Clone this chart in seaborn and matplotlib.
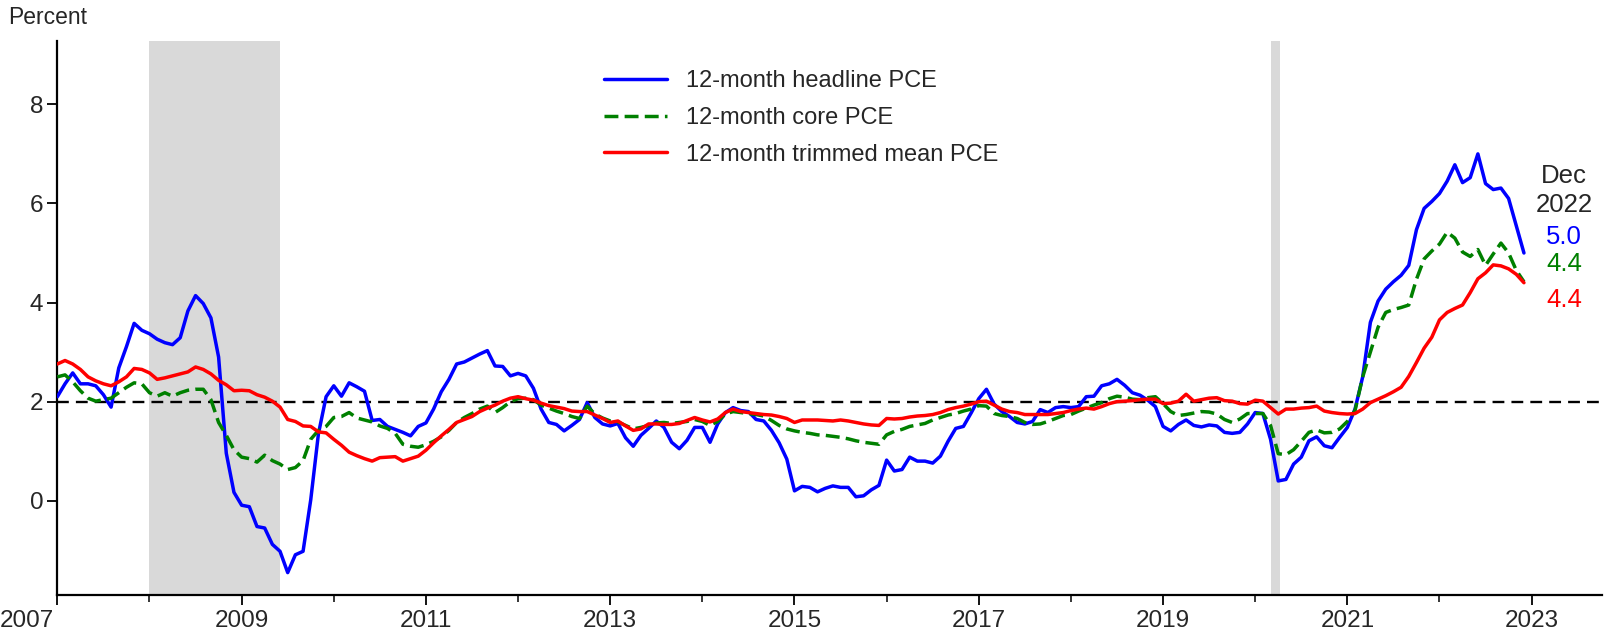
import numpy as np
import pandas as pd
import matplotlib
matplotlib.use("Agg")
import matplotlib.pyplot as plt
import matplotlib.transforms as mtransforms
import seaborn as sns

# monthly 12-month PCE inflation, Jan 2007 .. Dec 2022 (percent)
headline = [
    2.10, 2.36, 2.58, 2.36, 2.36, 2.32, 2.14, 1.89, 2.68, 3.11, 3.58, 3.44,   # 2007
    3.37, 3.26, 3.19, 3.15, 3.29, 3.83, 4.14, 3.98, 3.69, 2.90, 0.96, 0.17,   # 2008
    -0.09, -0.12, -0.52, -0.55, -0.88, -1.02, -1.45, -1.09, -1.02, 0.02, 1.35, 2.10,  # 2009
    2.32, 2.11, 2.38, 2.30, 2.21, 1.62, 1.64, 1.50, 1.44, 1.38, 1.31, 1.50,   # 2010
    1.57, 1.85, 2.20, 2.45, 2.76, 2.80, 2.88, 2.96, 3.03, 2.72, 2.71, 2.52,   # 2011
    2.57, 2.52, 2.27, 1.85, 1.58, 1.54, 1.41, 1.52, 1.64, 1.98, 1.68, 1.55,   # 2012
    1.51, 1.56, 1.27, 1.10, 1.32, 1.46, 1.61, 1.48, 1.18, 1.05, 1.22, 1.48,   # 2013
    1.48, 1.18, 1.55, 1.78, 1.88, 1.82, 1.80, 1.64, 1.61, 1.42, 1.17, 0.84,   # 2014
    0.20, 0.29, 0.27, 0.18, 0.25, 0.30, 0.27, 0.27, 0.08, 0.10, 0.22, 0.31,   # 2015
    0.82, 0.60, 0.63, 0.88, 0.80, 0.80, 0.76, 0.90, 1.20, 1.46, 1.50, 1.77,   # 2016
    2.06, 2.25, 1.95, 1.80, 1.70, 1.58, 1.55, 1.60, 1.84, 1.78, 1.88, 1.90,   # 2017
    1.88, 1.90, 2.10, 2.11, 2.32, 2.36, 2.45, 2.33, 2.18, 2.13, 2.03, 1.90,   # 2018
    1.50, 1.41, 1.54, 1.63, 1.52, 1.49, 1.53, 1.51, 1.38, 1.36, 1.38, 1.55,   # 2019
    1.78, 1.76, 1.24, 0.40, 0.43, 0.74, 0.88, 1.21, 1.29, 1.11, 1.07, 1.28,   # 2020
    1.48, 1.85, 2.50, 3.60, 4.03, 4.27, 4.42, 4.55, 4.75, 5.47, 5.90, 6.04,   # 2021
    6.20, 6.45, 6.78, 6.42, 6.52, 7.00, 6.40, 6.28, 6.31, 6.10, 5.55, 5.00,   # 2022
]

core = [
    2.50, 2.54, 2.40, 2.22, 2.07, 2.01, 2.04, 2.07, 2.18, 2.29, 2.38, 2.36,
    2.18, 2.11, 2.18, 2.11, 2.18, 2.23, 2.25, 2.25, 2.04, 1.58, 1.32, 1.03,
    0.88, 0.85, 0.78, 0.92, 0.81, 0.74, 0.63, 0.67, 0.81, 1.24, 1.42, 1.50,
    1.68, 1.70, 1.78, 1.67, 1.63, 1.59, 1.51, 1.46, 1.36, 1.14, 1.10, 1.08,
    1.13, 1.20, 1.29, 1.42, 1.58, 1.68, 1.76, 1.85, 1.91, 1.78, 1.88, 2.00,
    2.06, 2.07, 2.04, 1.93, 1.87, 1.81, 1.76, 1.70, 1.66, 1.91, 1.75, 1.67,
    1.61, 1.59, 1.52, 1.45, 1.48, 1.52, 1.57, 1.58, 1.56, 1.58, 1.60, 1.64,
    1.60, 1.52, 1.60, 1.75, 1.80, 1.78, 1.76, 1.74, 1.71, 1.62, 1.52, 1.45,
    1.41, 1.38, 1.36, 1.33, 1.32, 1.30, 1.28, 1.25, 1.21, 1.18, 1.16, 1.14,
    1.33, 1.40, 1.44, 1.50, 1.53, 1.56, 1.63, 1.68, 1.73, 1.76, 1.81, 1.85,
    1.92, 1.91, 1.76, 1.72, 1.70, 1.66, 1.58, 1.54, 1.55, 1.60, 1.66, 1.72,
    1.74, 1.81, 1.87, 1.93, 1.98, 2.06, 2.11, 2.09, 2.05, 2.04, 2.08, 2.10,
    1.96, 1.80, 1.72, 1.74, 1.77, 1.80, 1.79, 1.75, 1.64, 1.58, 1.65, 1.76,
    1.76, 1.76, 1.52, 0.95, 0.93, 1.03, 1.20, 1.38, 1.43, 1.37, 1.38, 1.45,
    1.60, 1.82, 2.50, 3.00, 3.50, 3.80, 3.86, 3.90, 3.95, 4.47, 4.88, 5.04,
    5.18, 5.42, 5.30, 5.02, 4.93, 5.07, 4.75, 4.98, 5.20, 5.00, 4.65, 4.42,
]

trimmed = [
    2.76, 2.83, 2.76, 2.65, 2.50, 2.42, 2.36, 2.32, 2.40, 2.50, 2.67, 2.65,
    2.58, 2.45, 2.48, 2.52, 2.56, 2.60, 2.70, 2.65, 2.56, 2.43, 2.34, 2.22,
    2.23, 2.22, 2.14, 2.09, 2.01, 1.89, 1.64, 1.60, 1.51, 1.50, 1.39, 1.37,
    1.24, 1.12, 0.98, 0.91, 0.85, 0.80, 0.87, 0.88, 0.89, 0.80, 0.85, 0.90,
    1.02, 1.17, 1.31, 1.44, 1.58, 1.64, 1.70, 1.80, 1.87, 1.93, 2.01, 2.07,
    2.10, 2.06, 2.03, 1.97, 1.92, 1.89, 1.86, 1.81, 1.80, 1.80, 1.73, 1.66,
    1.58, 1.61, 1.51, 1.42, 1.45, 1.55, 1.55, 1.54, 1.54, 1.56, 1.62, 1.68,
    1.63, 1.59, 1.65, 1.78, 1.85, 1.80, 1.78, 1.76, 1.74, 1.73, 1.70, 1.66,
    1.58, 1.63, 1.63, 1.63, 1.62, 1.61, 1.63, 1.61, 1.58, 1.55, 1.53, 1.52,
    1.66, 1.65, 1.66, 1.69, 1.71, 1.72, 1.74, 1.78, 1.84, 1.88, 1.91, 1.95,
    2.00, 2.01, 1.93, 1.85, 1.80, 1.78, 1.74, 1.74, 1.74, 1.74, 1.76, 1.78,
    1.82, 1.85, 1.87, 1.85, 1.90, 1.96, 2.00, 2.01, 2.02, 2.04, 2.05, 2.05,
    1.96, 1.97, 2.01, 2.15, 2.01, 2.04, 2.07, 2.08, 2.02, 2.01, 1.96, 1.95,
    2.03, 2.01, 1.88, 1.75, 1.85, 1.85, 1.87, 1.88, 1.91, 1.81, 1.78, 1.76,
    1.75, 1.76, 1.85, 1.98, 2.05, 2.12, 2.20, 2.29, 2.51, 2.79, 3.08, 3.30,
    3.65, 3.80, 3.88, 3.95, 4.20, 4.48, 4.60, 4.76, 4.74, 4.68, 4.57, 4.40,
]

series_names = ["12-month headline PCE", "12-month core PCE", "12-month trimmed mean PCE"]
recessions = [(2008.0, 2009.42), (2020.17, 2020.27)]
end_labels = ["5.0", "4.4", "4.4"]
target = 2.0

sns.set_style("ticks")
plt.rcParams["font.family"] = ["Liberation Sans", "DejaVu Sans"]

months = 2007 + np.arange(len(headline)) / 12
df = pd.DataFrame({"date": months, "headline": headline, "core": core, "trimmed": trimmed})

fig = plt.figure(figsize=(16.11, 6.39), dpi=100)
ax = fig.add_axes([0.0356, 0.069, 0.9586, 0.867])

for a, b in recessions:
    ax.axvspan(a, b, color="#d9d9d9", lw=0, zorder=0)

ax.axhline(target, color="black", lw=1.7, ls=(0, (5, 3)), zorder=1)

sns.lineplot(data=df, x="date", y="headline", ax=ax, color="#0000ff", lw=2.5,
             label=series_names[0], zorder=3)
sns.lineplot(data=df, x="date", y="core", ax=ax, color="#008000", lw=2.5,
             label=series_names[1], zorder=3)
ax.lines[-1].set_dashes((4, 1.8))
sns.lineplot(data=df, x="date", y="trimmed", ax=ax, color="#ff0000", lw=2.5,
             label=series_names[2], zorder=3)

ax.set_xlim(2007, 2023.76)
ax.set_ylim(-1.9, 9.28)
ax.set_xticks(range(2007, 2024, 2))
ax.set_xticks(range(2008, 2024, 2), minor=True)
ax.set_yticks([0, 2, 4, 6, 8])
ax.set_xlabel("")
ax.set_ylabel("")
ax.tick_params(axis="both", which="major", labelsize=17.5, width=1.3, length=7, color="black")
ax.tick_params(axis="x", which="minor", width=1.3, length=5)
ax.tick_params(axis="x", pad=4)
ax.tick_params(axis="y", pad=3)
sns.despine(ax=ax)
for s in ["left", "bottom"]:
    ax.spines[s].set_linewidth(1.6)
    ax.spines[s].set_color("black")

# first year label sits flush with the left edge of the figure
first = ax.get_xticklabels()[0]
first.set_transform(first.get_transform() + mtransforms.ScaledTranslation(-0.30, 0, fig.dpi_scale_trans))

leg = ax.legend(loc="upper left", bbox_to_anchor=(0.340, 0.985), frameon=False,
                fontsize=17, handlelength=2.7, handletextpad=0.78, labelspacing=0.62)
leg.get_lines()[1].set_dashes((4, 1.8))

fig.text(0.005, 0.972, "Percent", fontsize=16.5, va="center", ha="left")

xl = 2023.35
ax.text(xl, 6.55, "Dec", fontsize=18.5, ha="center", va="center")
ax.text(xl, 5.97, "2022", fontsize=18.5, ha="center", va="center")
ax.text(xl, 5.32, end_labels[0], fontsize=18.5, ha="center", va="center", color="#0000ff")
ax.text(xl, 4.78, end_labels[1], fontsize=18.5, ha="center", va="center", color="#008000")
ax.text(xl, 4.05, end_labels[2], fontsize=18.5, ha="center", va="center", color="#ff0000")

fig.savefig("out.png", dpi=100)
